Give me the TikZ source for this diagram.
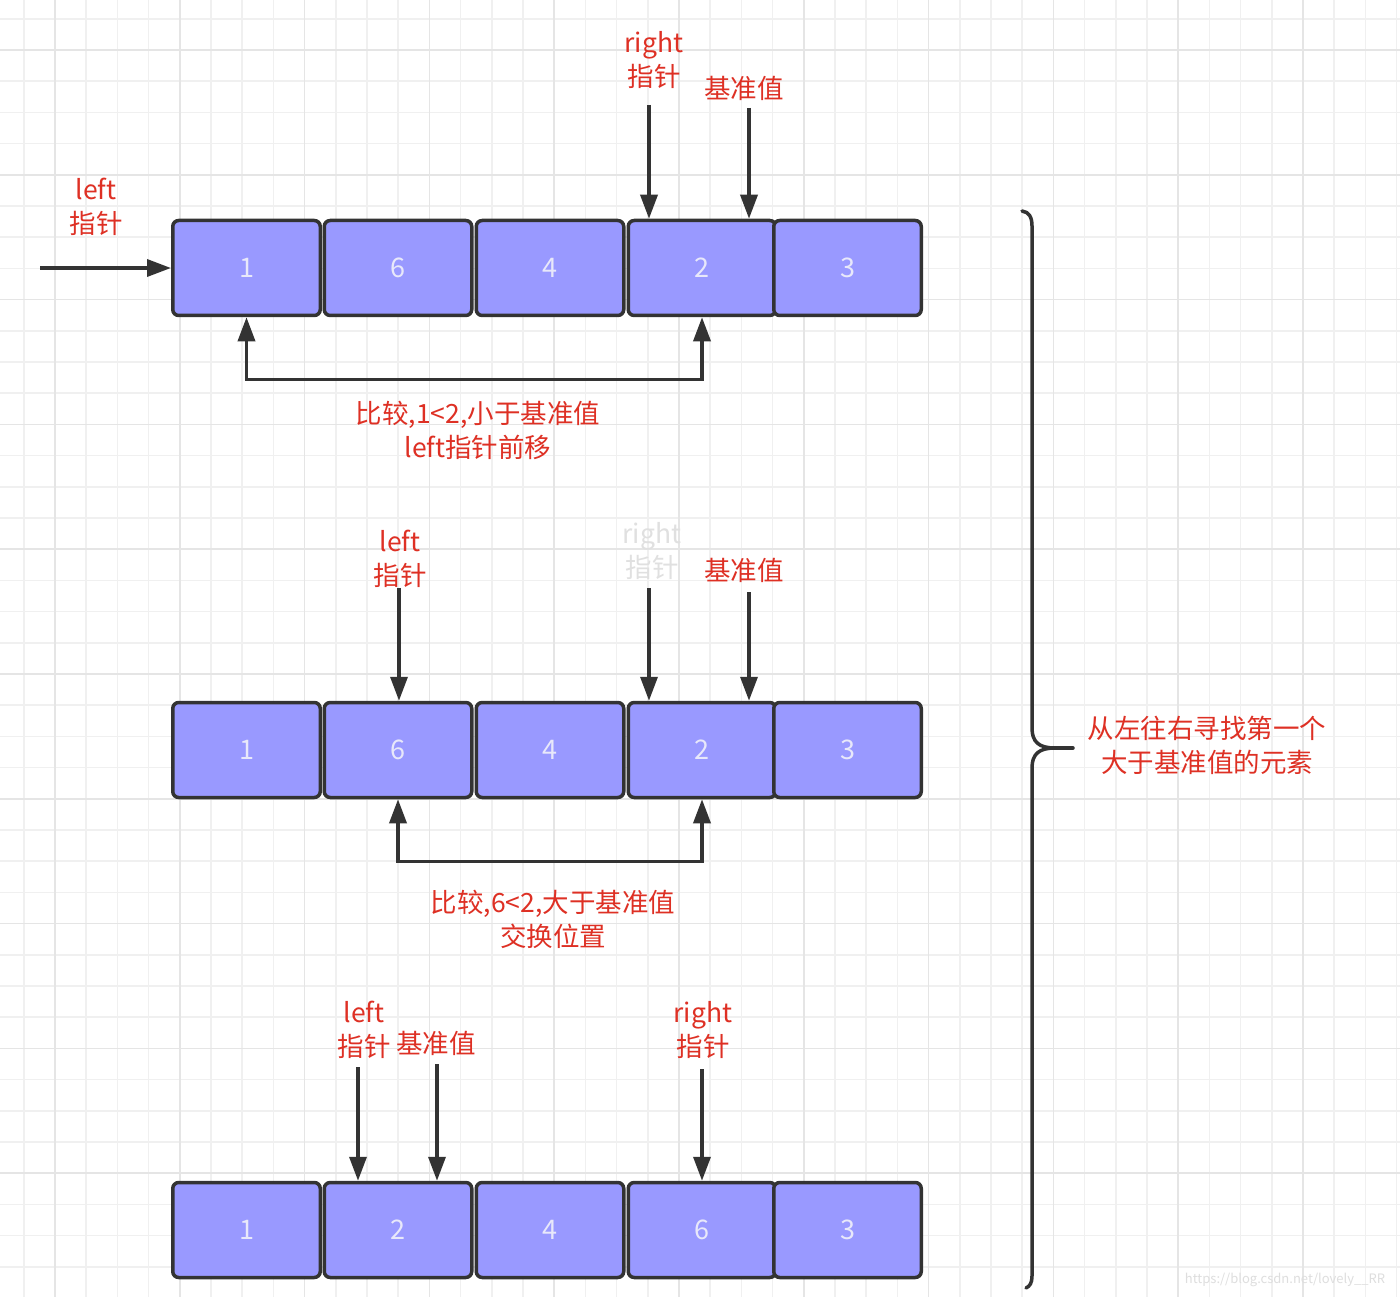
\documentclass[tikz,border=0pt]{standalone}
\usepackage{fontspec}
\setmainfont{Noto Sans CJK SC}
\usetikzlibrary{arrows.meta}
\definecolor{cellfill}{RGB}{153,153,255}
\definecolor{edge}{RGB}{51,51,51}
\definecolor{lblred}{RGB}{222,48,36}
\definecolor{numtext}{RGB}{232,232,250}
\tikzset{
  cell/.style={draw=edge,fill=cellfill,line width=3.5pt,rounded corners=6pt,
    minimum width=147.5pt,minimum height=95pt,inner sep=0pt,
    text=numtext,font=\fontsize{27}{32}\selectfont},
  ptr/.style={edge,line width=3.5pt,-{Triangle[length=24pt,width=17pt]}},
  cmp/.style={edge,line width=3.5pt,
    {Triangle[length=24pt,width=17pt]}-{Triangle[length=24pt,width=17pt]}},
  lbl/.style={text=lblred,align=center,font=\fontsize{26.5}{34}\selectfont},
  faded/.style={lbl,text=black!12},
  brace/.style={edge,line width=3.5pt,line cap=round},
  gridline/.style={line width=1.5pt,black!6},
  gridmajor/.style={line width=1.5pt,black!10},
}

\begin{document}
\begin{tikzpicture}[x=1pt,y=-1pt]
  \fill[white] (0,0) rectangle (1400,1297);
  \useasboundingbox (0,0) rectangle (1400,1297);
  % background grid
  \foreach \k in {-1,...,43} \draw[gridline] ({55+31.2*\k},0) -- ({55+31.2*\k},1297);
  \foreach \k in {-1,...,40} \draw[gridline] (0,{50+31.2*\k}) -- (1400,{50+31.2*\k});
  \foreach \k in {0,...,10} \draw[gridmajor] ({55+124.8*\k},0) -- ({55+124.8*\k},1297);
  \foreach \k in {0,...,9} \draw[gridmajor] (0,{50+124.8*\k}) -- (1400,{50+124.8*\k});

  % row 1
  \node[cell] (b11) at (246.5,268) {1};
  \node[cell] (b12) at (398,268) {6};
  \node[cell] (b13) at (550,268) {4};
  \node[cell] (b14) at (702,268) {2};
  \node[cell] (b15) at (847.5,268) {3};
  \node[lbl] (l1) at (96,207) {left\\指针};
  \node[lbl] (r1) at (654,60) {right\\指针};
  \node[lbl] (p1) at (744,88) {基准值};
  \coordinate (lp1) at (40,268);
  \coordinate (rp1) at (649,105);
  \coordinate (pp1) at (749,108);
  \draw[ptr] (lp1) -- (b11.west);
  \draw[ptr] (rp1) -- (rp1 |- b14.north);
  \draw[ptr] (pp1) -- (pp1 |- b14.north);
  \draw[cmp] (b11.south) -- ++(0,62) -| (b14.south);
  \node[lbl] (c1) at (478,430) {比较,1<2,小于基准值\\left指针前移};

  % row 2
  \node[cell] (b21) at (246.5,750) {1};
  \node[cell] (b22) at (398,750) {6};
  \node[cell] (b23) at (550,750) {4};
  \node[cell] (b24) at (702,750) {2};
  \node[cell] (b25) at (847.5,750) {3};
  \node[lbl] (l2) at (400,559) {left\\指针};
  \node[faded] (r2) at (652,551) {right\\指针};
  \node[lbl] (p2) at (744,570) {基准值};
  \coordinate (lp2) at (399,588);
  \coordinate (rp2) at (649,588);
  \coordinate (pp2) at (749,592);
  \draw[ptr] (lp2) -- (lp2 |- b22.north);
  \draw[ptr] (rp2) -- (rp2 |- b24.north);
  \draw[ptr] (pp2) -- (pp2 |- b24.north);
  \draw[cmp] (b22.south) -- ++(0,62) -| (b24.south);
  \node[lbl] (c2) at (553,919) {比较,6<2,大于基准值\\交换位置};

  % row 3
  \node[cell] (b31) at (246.5,1230) {1};
  \node[cell] (b32) at (398,1230) {2};
  \node[cell] (b33) at (550,1230) {4};
  \node[cell] (b34) at (702,1230) {6};
  \node[cell] (b35) at (847.5,1230) {3};
  \node[lbl] (l3) at (364,1030) {left\\指针};
  \node[lbl] (p3) at (436,1043) {基准值};
  \node[lbl] (r3) at (703,1030) {right\\指针};
  \coordinate (lp3) at (358,1067);
  \coordinate (pp3) at (437,1064);
  \coordinate (rp3) at (702,1069);
  \draw[ptr] (lp3) -- (lp3 |- b32.north);
  \draw[ptr] (pp3) -- (pp3 |- b32.north);
  \draw[ptr] (rp3) -- (rp3 |- b34.north);

  % brace on the right
  \draw[brace] (1022,211) .. controls (1029,212) and (1032,217) .. (1032,226)
    -- (1032,728) .. controls (1032,742) and (1039,748) .. (1055,748)
    .. controls (1039,748) and (1032,754) .. (1032,768)
    -- (1032,1276) .. controls (1032,1283) and (1030,1286) .. (1026,1288);
  \draw[brace] (1055,748) -- (1073,748);
  \node[lbl] (n1) at (1207,745) {从左往右寻找第一个\\大于基准值的元素};
  \node[text=black!13,font=\fontsize{13}{15}\selectfont] (wm) at (1285,1280) {https://blog.csdn.net/lovely\_\_RR};
\end{tikzpicture}
\end{document}
